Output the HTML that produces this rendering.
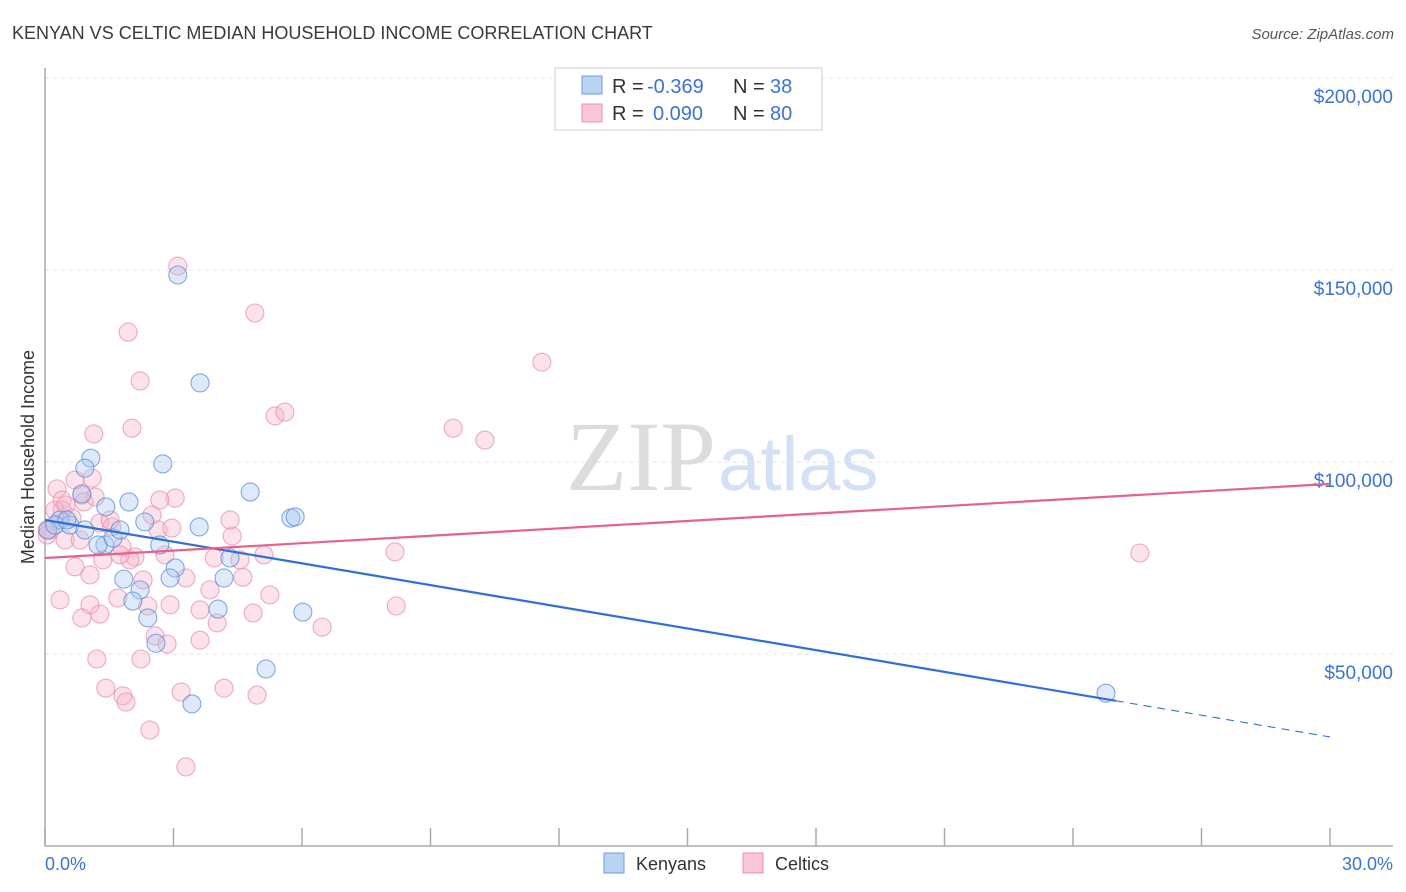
<!DOCTYPE html>
<html><head><meta charset="utf-8"><style>
body{margin:0;background:#fff;font-family:"Liberation Sans",sans-serif;}
svg{display:block}
</style></head><body>
<svg id="chart" width="1406" height="892">
<text x="12" y="39" font-size="18" fill="#3a3a3a">KENYAN VS CELTIC MEDIAN HOUSEHOLD INCOME CORRELATION CHART</text>
<text x="1394" y="39" font-size="15" fill="#555" font-style="italic" text-anchor="end">Source: ZipAtlas.com</text>
<text x="716" y="490" font-size="100" fill="#dcdcdc" text-anchor="end" font-family="Liberation Serif">ZIP</text>
<text x="718" y="490" font-size="76" fill="#d3e0f5">atlas</text>
<g id="grid"></g><g id="axes"></g><g id="pts"></g><g id="lines"></g>
<text transform="translate(34,457) rotate(-90)" font-size="18" fill="#333" text-anchor="middle">Median Household Income</text>
<text x="45" y="870" font-size="18" fill="#3b73d4">0.0%</text>
<text x="1393" y="870" font-size="18" fill="#3b73d4" text-anchor="end">30.0%</text>
<g>
<rect x="555" y="68" width="267" height="62" fill="#fff" stroke="#ccc"/>
<rect x="582" y="76" width="20" height="18" fill="#b9d3f5" stroke="#6c9be0"/>
<rect x="582" y="104" width="20" height="18" fill="#f9c6d6" stroke="#ec8fae"/>
<text x="612" y="93" font-size="20" fill="#333">R =</text>
<text x="647" y="93" font-size="20" fill="#3b73d4">-0.369</text>
<text x="733" y="93" font-size="20" fill="#333">N =</text>
<text x="770" y="93" font-size="20" fill="#3b73d4">38</text>
<text x="612" y="120" font-size="20" fill="#333">R =</text>
<text x="653" y="120" font-size="20" fill="#3b73d4">0.090</text>
<text x="733" y="120" font-size="20" fill="#333">N =</text>
<text x="770" y="120" font-size="20" fill="#3b73d4">80</text>
</g>
<g>
<rect x="604" y="853" width="20" height="20" fill="#b9d3f5" stroke="#6c9be0"/>
<text x="636" y="870" font-size="18" fill="#333">Kenyans</text>
<rect x="743" y="853" width="20" height="20" fill="#f9c6d6" stroke="#ec8fae"/>
<text x="775" y="870" font-size="18" fill="#333">Celtics</text>
</g>
</svg>
<script>
const yTicks=[50000,100000,150000,200000];
const yTickLabels=["$50,000","$100,000","$150,000","$200,000"];
const kenX=[3.1,3.62,1.07,0.93,2.75,0.86,1.42,1.96,4.79,2.33,3.6,5.74,5.84,0.35,0.58,1.4,1.24,1.59,2.68,4.32,3.04,2.92,1.84,2.22,4.18,2.05,4.04,2.4,6.02,2.59,5.16,3.43,24.77,0.07,0.23,1.75,0.51,0.93];
const kenY=[148.7,120.6,101,98.4,99.5,91.7,88.3,89.6,92.2,84.4,83.1,85.4,85.7,84.9,83.6,78.4,78.4,80.2,78.4,75,72.4,69.8,69.5,66.7,69.8,63.8,61.7,59.4,60.9,52.8,46.1,37,39.8,82.3,83.6,82.3,84.9,82.3];
const celX=[3.1,4.9,1.94,2.22,11.6,1.14,2.03,5.37,5.6,9.53,10.27,0.28,0.86,0.4,0.91,1.17,3.04,0.4,0.63,0.12,1.28,1.56,2.5,2.64,2.96,4.37,1.8,2.1,2.8,0.7,1.35,3.95,5.11,8.17,25.56,2.29,3.29,4.62,3.85,5.25,1.7,1.05,2.4,3.62,0.86,1.28,4.86,4.02,8.2,6.47,2.57,2.85,1.21,2.24,3.18,4.18,1.42,1.82,1.89,4.95,2.45,3.29,0.05,0.23,0.47,1.52,2.68,4.32,1.05,1.98,0.82,1.75,2.92,3.62,0.35,1.1,0.49,4.55,0.05,0.7];
const celY=[151,138.8,133.8,121.1,126,107.3,108.8,112,113,108.8,105.7,93,91.4,90.1,89.6,90.9,90.6,87.5,85.4,82.3,84.1,83.1,86.2,82.3,82.8,80.7,77.9,75.3,75.8,72.7,74.5,75,75.8,76.6,76.3,69.3,69.8,70,66.7,65.4,64.6,62.8,62.5,61.5,59.4,60.4,60.7,58.1,62.5,57,54.7,52.6,48.7,48.7,40.1,41.1,41.1,39.1,37.5,39.3,30.2,20.6,81,87.5,79.7,84.9,90.1,84.9,70.6,74.5,79.7,75.8,62.8,53.6,64.1,95.8,88.8,74.5,82.3,95.3];
const kenTrend=[84.9,28.4];
const kenTrendSolidEnd=25;
const celTrend=[75,94.3];
const NS="http://www.w3.org/2000/svg";
const X0=45,X1=1330,Y0=846,PPK=192/50;
const sx=v=>X0+(v/30)*(X1-X0);
const sy=v=>Y0-v*PPK;
function mk(t,a,p){const e=document.createElementNS(NS,t);for(const k in a)e.setAttribute(k,a[k]);p.appendChild(e);return e;}
const grid=document.getElementById('grid'),axes=document.getElementById('axes'),pts=document.getElementById('pts'),lines=document.getElementById('lines');
yTicks.forEach((t,i)=>{
 const y=sy(t/1000);
 const l=mk('line',{x1:X0,x2:1393,y1:y,y2:y,stroke:'#e2e2e2','stroke-dasharray':'4,4'},grid);
 
 
 const tx=mk('text',{x:1393,y:y+25,'font-size':19,fill:'#3b73d4','text-anchor':'end'},grid);
 tx.textContent=yTickLabels[i];
 
 
});
const ya=mk('line',{x1:X0,x2:X0,y1:68,y2:Y0,stroke:'#aaa','stroke-width':1.5},axes);


const xa=mk('line',{x1:X0,x2:1393,y1:Y0,y2:Y0,stroke:'#aaa','stroke-width':1.5},axes);


for(let i=0;i<=10;i++){const x=sx(i*3);
 const t=mk('line',{x1:x,x2:x,y1:828,y2:Y0,stroke:'#aaa','stroke-width':1.5},axes);
 
 }
function dots(xs,ys,fill,stroke,name){xs.forEach((v,i)=>{
 const c=mk('circle',{cx:sx(v),cy:sy(ys[i]),r:9,fill:fill,'fill-opacity':0.38,stroke:stroke,'stroke-opacity':0.75,'stroke-width':1.1},pts);
 
 });}
dots(celX,celY,'#f6b3c8','#e890ae','celtic-point');
dots(kenX,kenY,'#a9c8f0','#5a8fda','kenyan-point');
const kAt=x=>kenTrend[0]+(kenTrend[1]-kenTrend[0])*x/30;
const kl=mk('line',{x1:sx(0),y1:sy(kAt(0)),x2:sx(kenTrendSolidEnd),y2:sy(kAt(kenTrendSolidEnd)),stroke:'#2f6fd6','stroke-width':2.2},lines);


const kd=mk('line',{x1:sx(kenTrendSolidEnd),y1:sy(kAt(kenTrendSolidEnd)),x2:sx(30),y2:sy(kAt(30)),stroke:'#2f6fd6','stroke-width':1.1,'stroke-dasharray':'8,6'},lines);


const cl=mk('line',{x1:sx(0),y1:sy(celTrend[0]),x2:sx(30),y2:sy(celTrend[1]),stroke:'#e5628d','stroke-width':2.2},lines);


</script>
</body></html>
